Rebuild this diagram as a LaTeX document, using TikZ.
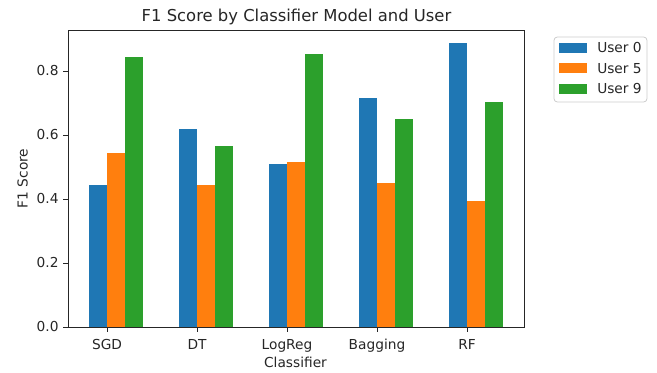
\documentclass[tikz,border=0pt]{standalone}
\usepackage{fontspec}
\setmainfont{DejaVu Sans}
\definecolor{userblue}{HTML}{1F77B4}
\definecolor{userorange}{HTML}{FF7F0E}
\definecolor{usergreen}{HTML}{2CA02C}
\definecolor{legendedge}{HTML}{CCCCCC}
\tikzset{
  axisline/.style={line width=0.7pt,black!85},
  ticktext/.style={font=\fontsize{10.3}{12}\selectfont,inner sep=0pt,text=black!85},
  titletext/.style={font=\fontsize{12.3}{14}\selectfont,inner sep=0pt,text=black!85}
}
\begin{document}
\begin{tikzpicture}[x=0.75pt,y=0.75pt]
  \useasboundingbox (0,0) rectangle (657,373);
  \begin{scope}[shift={(80.25pt,34.5pt)},x=67.5pt,y=240pt]
    \foreach \i/\a/\b/\c in {0/0.445/0.544/0.843,1/0.620/0.445/0.565,2/0.509/0.517/0.852,3/0.715/0.450/0.650,4/0.886/0.393/0.702} {
      \fill[userblue] (\i-0.2,0) rectangle (\i,\a);
      \fill[userorange] (\i,0) rectangle (\i+0.2,\b);
      \fill[usergreen] (\i+0.2,0) rectangle (\i+0.4,\c);
    }
    \draw[axisline] (-0.433,0) rectangle (4.644,0.928);
    \foreach \i/\name in {0/SGD,1/DT,2/LogReg,3/Bagging,4/RF} {
      \draw[axisline] (\i,0) -- ++(0,-3.75pt);
      \node[ticktext,anchor=base] (xt\i) at ([yshift=-16.7pt]\i,0) {\name};
    }
    \foreach \v/\k in {0.0/0,0.2/1,0.4/2,0.6/3,0.8/4} {
      \draw[axisline] (-0.433,\v) -- ++(-3.75pt,0);
      \node[ticktext,anchor=east] (yt\k) at ([xshift=-6.9pt]-0.433,\v) {\v};
    }
  \end{scope}
  \node[titletext,anchor=base] (title) at (296.5,351) {F1 Score by Classifier Model and User};
  \node[ticktext,anchor=base] (xlabel) at (295.5,5.7) {Classifier};
  \node[ticktext,rotate=90] (ylabel) at (22.5,194.5) {F1 Score};
  \draw[legendedge,line width=0.6pt,rounded corners=2.5pt] (554,271) rectangle (647,336);
  \fill[userblue] (559,320.4) rectangle (587,330.1);
  \fill[userorange] (559,299.9) rectangle (587,309.6);
  \fill[usergreen] (559,279.4) rectangle (587,289.1);
  \node[ticktext,anchor=west] (leg0) at (597,325.2) {User 0};
  \node[ticktext,anchor=west] (leg5) at (597,304.7) {User 5};
  \node[ticktext,anchor=west] (leg9) at (597,284.2) {User 9};
\end{tikzpicture}
\end{document}
